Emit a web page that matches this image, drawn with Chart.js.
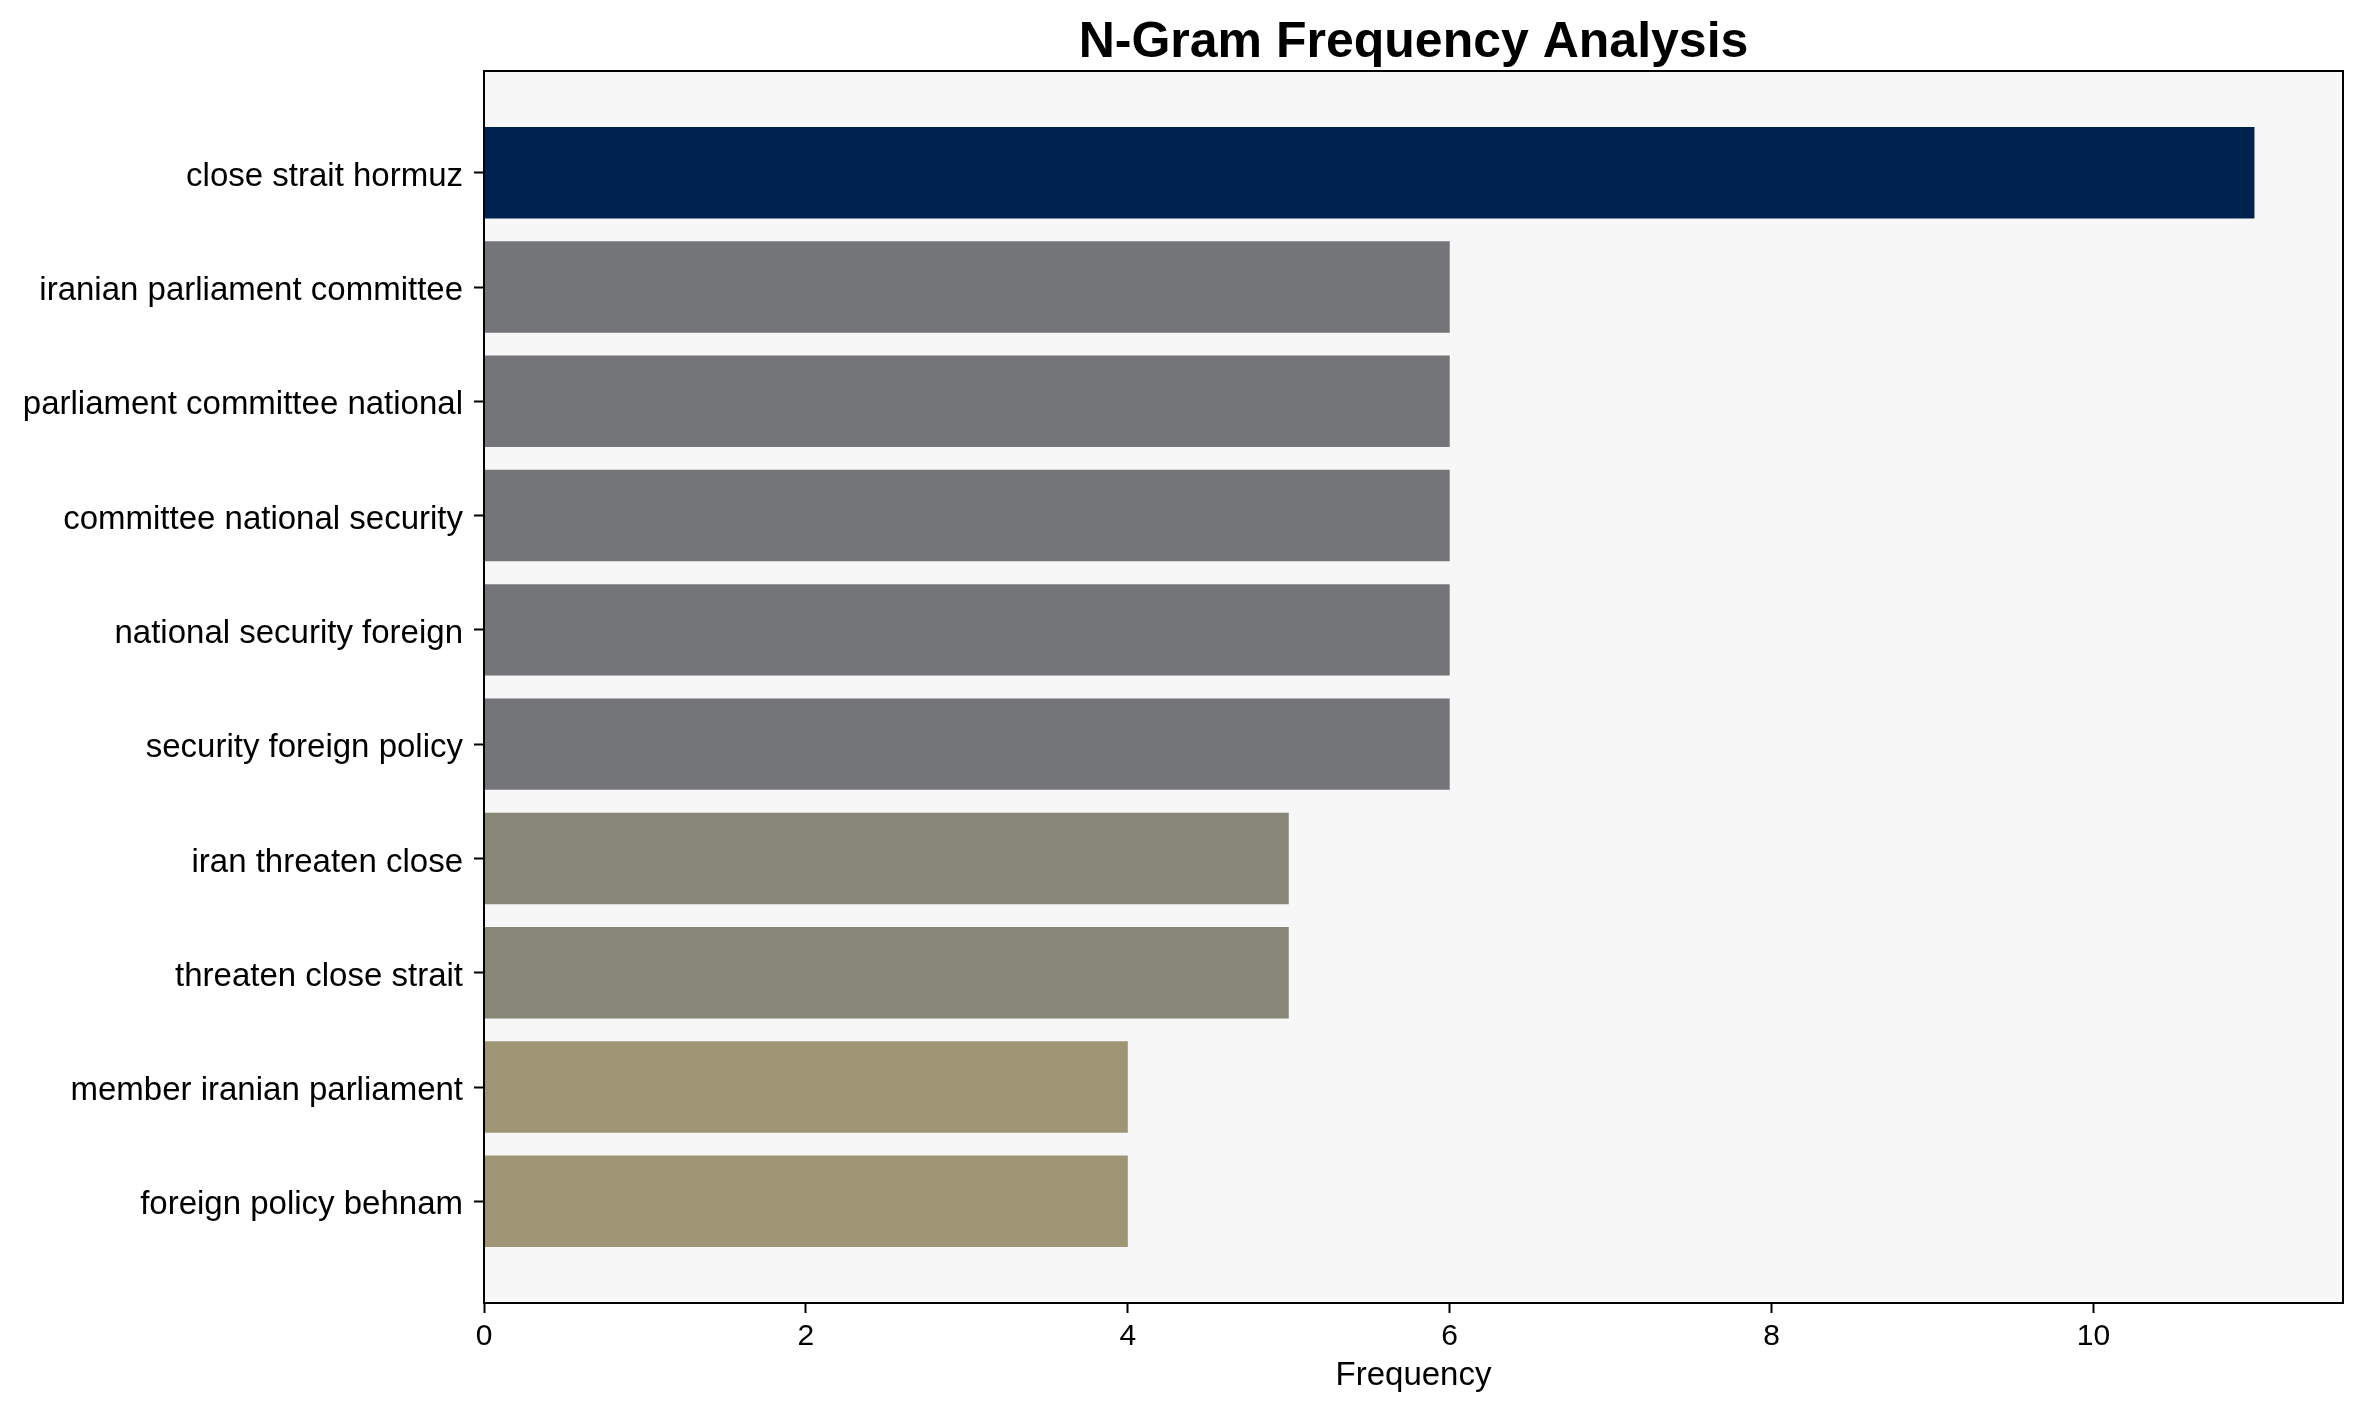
<!DOCTYPE html>
<html>
<head>
<meta charset="utf-8">
<title>N-Gram Frequency Analysis</title>
<script src="https://cdn.jsdelivr.net/npm/chart.js@4.4.1/dist/chart.umd.min.js"></script>
<style>
  html, body { margin: 0; padding: 0; background: #ffffff; }
  #wrap { width: 2364px; height: 1414px; }
</style>
</head>
<body>
<div id="wrap"><canvas id="ngramChart" width="2364" height="1414"></canvas></div>
<script>
// ====== DATA ======
const ngrams = [
  "close strait hormuz",
  "iranian parliament committee",
  "parliament committee national",
  "committee national security",
  "national security foreign",
  "security foreign policy",
  "iran threaten close",
  "threaten close strait",
  "member iranian parliament",
  "foreign policy behnam",
];
const frequencies = [11, 6, 6, 6, 6, 6, 5, 5, 4, 4];
const freqTicks = [0, 2, 4, 6, 8, 10];
const chartTitle = "N-Gram Frequency Analysis";

// colours per bar (cividis-like, by frequency)
const barColors = [
  "#00224e",
  "#747578", "#747578", "#747578", "#747578", "#747578",
  "#888676", "#888676",
  "#9e9575", "#9e9575",
];

const FONT = "'Liberation Sans', Arial, Helvetica, sans-serif";

// plot box: light background, black frame on all four sides, title centred on the plot
const plotBox = {
  id: "plotBox",
  beforeDraw(chart) {
    const { ctx, chartArea: a } = chart;
    ctx.save();
    ctx.fillStyle = "#f7f7f7";
    ctx.fillRect(a.left, a.top, a.right - a.left, a.bottom - a.top);
    ctx.restore();
  },
  afterDraw(chart) {
    const { ctx, chartArea: a } = chart;
    ctx.save();
    ctx.strokeStyle = "#000000";
    ctx.lineWidth = 2;
    ctx.strokeRect(a.left, a.top, a.right - a.left, a.bottom - a.top);

    ctx.fillStyle = "#000000";
    ctx.font = "bold 50px " + FONT;
    ctx.textAlign = "center";
    ctx.textBaseline = "middle";
    ctx.fillText(chartTitle, (a.left + a.right) / 2, 43);
    ctx.restore();
  },
};

new Chart(document.getElementById("ngramChart"), {
  type: "bar",
  data: {
    datasets: [
      {
        label: "Frequency",
        data: frequencies.map((v, i) => ({ x: v, y: i })),
        backgroundColor: barColors,
        borderWidth: 0,
        barPercentage: 0.8,
        categoryPercentage: 1.0,
      },
    ],
  },
  options: {
    indexAxis: "y",
    responsive: false,
    animation: false,
    devicePixelRatio: 1,
    layout: { padding: { left: 0, right: 21, top: 71, bottom: 0 } },
    plugins: {
      legend: { display: false },
      tooltip: { enabled: false },
      title: { display: false },
    },
    scales: {
      x: {
        type: "linear",
        min: 0,
        max: 11.55,
        afterBuildTicks: (s) => { s.ticks = freqTicks.map((v) => ({ value: v })); },
        afterFit: (s) => { s.height = 111; },
        ticks: {
          color: "#000000",
          font: { family: FONT, size: 30 },
          padding: 6,
          maxRotation: 0,
        },
        grid: {
          display: true,
          drawOnChartArea: false,
          drawTicks: true,
          tickLength: 10,
          tickWidth: 2,
          tickColor: "#000000",
        },
        border: { display: true, color: "#000000", width: 2 },
        title: {
          display: true,
          text: "Frequency",
          color: "#000000",
          font: { family: FONT, size: 33, lineHeight: 1.2 },
          padding: { top: 0, bottom: 18 },
        },
      },
      y: {
        type: "linear",
        reverse: true,
        offset: false,
        min: -0.89,
        max: 9.89,
        afterBuildTicks: (s) => { s.ticks = ngrams.map((_, i) => ({ value: i })); },
        afterFit: (s) => { s.width = 484; },
        ticks: {
          color: "#000000",
          font: { family: FONT, size: 33 },
          padding: 11,
          labelOffset: 4,
          autoSkip: false,
          callback: (v) => ngrams[v],
        },
        grid: {
          display: true,
          offset: false,
          drawOnChartArea: false,
          drawTicks: true,
          tickLength: 10,
          tickWidth: 2,
          tickColor: "#000000",
        },
        border: { display: true, color: "#000000", width: 2 },
      },
    },
  },
  plugins: [plotBox],
});
</script>
</body>
</html>
